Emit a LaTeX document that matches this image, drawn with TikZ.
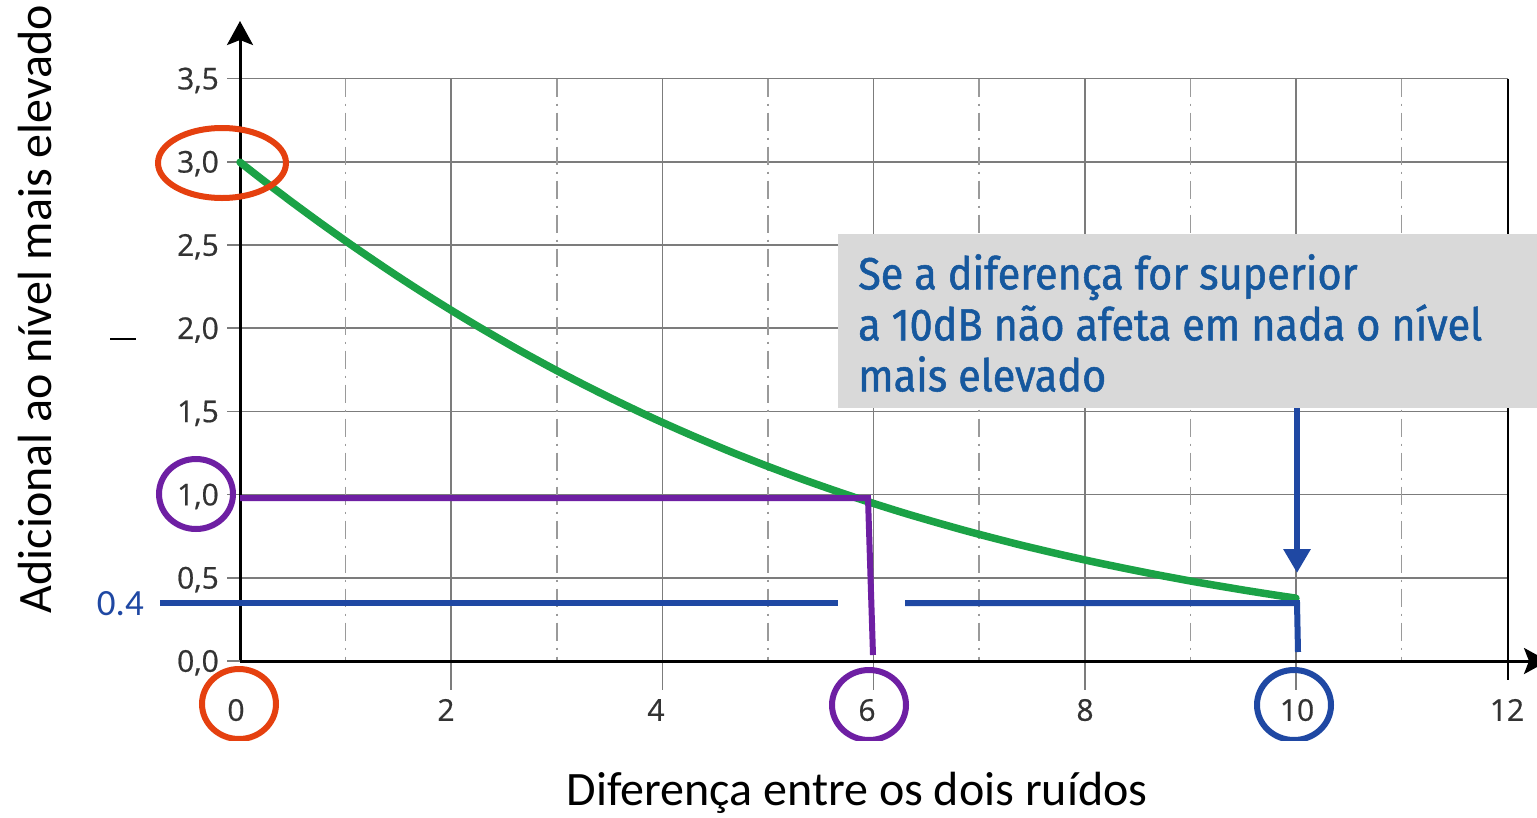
\documentclass[tikz,border=0pt]{standalone}
\usepackage{fontspec}
\setmainfont{Carlito}
\newfontfamily\tickfont[FakeBold=0.6]{Open Sans}
\newfontfamily\boxfont[FakeStretch=0.92, FakeBold=1.2]{Fira Sans}
\usetikzlibrary{arrows.meta}
\definecolor{gridgray}{HTML}{7C7C7C}
\definecolor{dashgray}{HTML}{9A9A9A}
\definecolor{ticktext}{HTML}{333333}
\definecolor{curvegreen}{HTML}{1BA246}
\definecolor{myred}{HTML}{E5400F}
\definecolor{mypurple}{HTML}{6E1FA3}
\definecolor{myblue}{HTML}{1F48A3}
\definecolor{boxgray}{HTML}{D9D9D9}
\definecolor{boxtext}{HTML}{16589E}
\tikzset{
  gridline/.style={gridgray, line width=1.5},
  dashline/.style={dashgray, line width=1.7, dash pattern=on 18pt off 7pt on 2pt off 7pt},
  axisline/.style={black, line width=3},
  ticklab/.style={font=\tickfont\fontsize{30}{33}\selectfont, text=ticktext, inner sep=0pt, text height=21.5pt, text depth=0pt},
  mark5/.style={line width=6},
  ring/.style={line width=6}
}
\begin{document}
\begin{tikzpicture}[x=1pt,y=-1pt]
\useasboundingbox (0,0) rectangle (1537,817);
\fill[white] (0,0) rectangle (1537,817);
\begin{scope}
\clip (0,0) rectangle (1537,817);
% horizontal grid
\foreach \i in {1,...,7} {
  \draw[gridline] (227,{661-83.2*\i}) -- (1508,{661-83.2*\i});
}
% vertical solid grid (even)
\foreach \k in {2,4,6,8,10} {
  \draw[gridline] ({240+105.6*\k},78.6) -- ({240+105.6*\k},690);
}
% vertical dash-dot grid (odd)
\foreach \k in {1,3,5,7,9,11} {
  \draw[dashline] ({240+105.6*\k},78.6) -- ({240+105.6*\k},661);
}
% right border
\draw[black, line width=2.8] (1508,78.6) -- (1508,680);
% axes
\draw[axisline, -{Stealth[length=24pt, width=26pt, inset=5pt]}] (240,661) -- (240,21);
\draw[axisline, -{Stealth[length=24pt, width=26pt, inset=5pt]}] (240,661) -- (1548,661);
\draw[gridline] (227,661) -- (240,661);
% y tick labels
\foreach \v/\t [count=\n from 0] in {0/{0,0},1/{0,5},2/{1,0},3/{1,5},4/{2,0},5/{2,5},6/{3,0},7/{3,5}} {
  \node[ticklab, anchor=east] (yl\n) at (219,{661-83.2*\v}) {\t};
}
% x tick labels
\foreach \px/\t [count=\n] in {236/0,446/2,656/4,867/6,1085/8,1297/10,1507/12} {
  \node[ticklab] (xl\n) at (\px,710) {\t};
}
% green curve
\draw[curvegreen, line width=7.5, line cap=round] plot[domain=0:10, samples=80, smooth]
  ({240+105.6*\x},{663-166.4*10*log10(1+pow(10,-\x/10))+0.4*\x});
% purple guide
\coordinate (p1) at (240,498);
\coordinate (p2) at (868,498);
\coordinate (p3) at (873,655);
\draw[mypurple, mark5, line join=miter] (p1) -- (p2) -- (p3);
% blue guide
\coordinate (b1) at (160,603);
\coordinate (b2) at (838,603);
\coordinate (b3) at (905,603);
\coordinate (b4) at (1297,603);
\coordinate (b5) at (1298,652);
\draw[myblue, mark5] (b1) -- (b2);
\draw[myblue, mark5, line join=miter] (b3) -- (b4) -- (b5);
% blue arrow
\coordinate (a1) at (1297,408);
\coordinate (a2) at (1297,573);
\draw[myblue, mark5, -{Triangle[length=24pt, width=26pt]}] (a1) -- (a2);
% text box
\fill[boxgray] (838,234) rectangle (1537,408);
\node[anchor=north west, align=left, inner sep=0pt, text=boxtext,
      font=\boxfont\fontsize{45}{51}\selectfont] (note) at (858,254)
  {Se a diferença for superior\\a 10dB não afeta em nada o nível\\mais elevado};
% circles
\begin{scope}
\clip (0,0) rectangle (1537,740);
\draw[myred, ring] (222,163) ellipse [x radius=64, y radius=35];
\draw[myred, ring] (239,704) ellipse [x radius=37, y radius=35];
\draw[mypurple, ring] (196,494) ellipse [x radius=37, y radius=35];
\draw[mypurple, ring] (869,705) ellipse [x radius=37, y radius=35];
\draw[myblue, ring] (1294,705) ellipse [x radius=37, y radius=35];
\end{scope}
% 0.4 label
\node[anchor=east, inner sep=0pt, text=myblue, font=\fontsize{37}{40}\selectfont] (v04) at (144,604) {0.4};
% stray dash
\draw[black, line width=2] (110,339) -- (136,339);
% axis titles
\node[font=\fontsize{48}{52}\selectfont, inner sep=0pt] (xt) at (857,793) {Diferença entre os dois ruídos};
\node[font=\fontsize{48}{52}\selectfont, inner sep=0pt, rotate=90] (yt) at (35,309) {Adicional ao nível mais elevado};
\end{scope}
\end{tikzpicture}
\end{document}
